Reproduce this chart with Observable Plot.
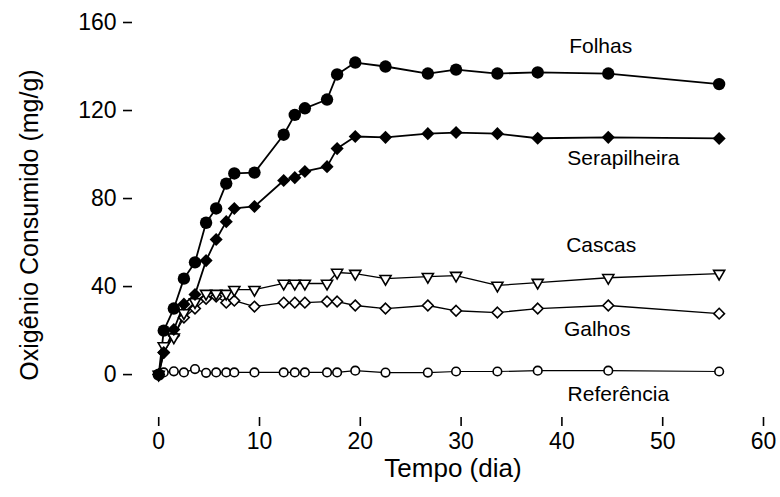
<!DOCTYPE html>
<html>
<head>
<meta charset="utf-8">
<script src="https://cdn.jsdelivr.net/npm/d3@7"></script>
<script src="https://cdn.jsdelivr.net/npm/@observablehq/plot@0.6"></script>
<style>
  html, body { margin: 0; padding: 0; background: #fff; }
  #chart { width: 780px; height: 497px; }
</style>
</head>
<body>
<div id="chart"></div>
<script>
// Time (days)
const tempo = [0, 0.5, 1.5, 2.5, 3.6, 4.7, 5.7, 6.7, 7.5, 9.5, 12.4, 13.5, 14.5, 16.7, 17.7, 19.5, 22.5, 26.7, 29.5, 33.6, 37.6, 44.6, 55.6];

// Oxygen consumed (mg/g)
const folhas       = [0, 20, 30, 43.6, 51, 69, 75.5, 86.8, 91.4, 91.8, 109, 118, 121, 125, 136.4, 141.8, 140, 136.8, 138.6, 136.8, 137.3, 136.8, 132];
const serapilheira = [0, 10, 20.5, 32, 36.4, 51.8, 61.4, 69.5, 75.5, 76.4, 88.2, 89.5, 92.3, 94.5, 102.7, 108.2, 107.8, 109.5, 110, 109.5, 107.4, 107.8, 107.3];
const cascas       = [0, 13, 17, 28, 33, 36.8, 36.8, 36.8, 38.6, 38.6, 41.4, 41.4, 41.4, 41.4, 46.4, 45.9, 43.6, 44.5, 45, 40.5, 41.8, 44, 45.9];
const galhos       = [0, 10, 17.7, 25.9, 30, 34.5, 35.5, 32.7, 33.6, 30.9, 32.7, 32.7, 32.7, 33.2, 33.2, 31.4, 30, 31.4, 29, 28.2, 30, 31.4, 27.7];
const referencia   = [0, 1, 1.5, 1, 2.5, 0.8, 1, 1, 1, 1, 1, 1, 1, 1, 1, 1.8, 0.9, 0.9, 1.4, 1.4, 1.8, 1.8, 1.4];

const seriesNames = ["Folhas", "Serapilheira", "Cascas", "Galhos", "Referência"];
const xTicks = [0, 10, 20, 30, 40, 50, 60];
const yTicks = [0, 40, 80, 120, 160];

// Series label anchors (data units)
const labelX = [43.85, 46.1, 43.9, 43.5, 45.6];
const labelY = [149.3, 98.2, 58.6, 20.5, -9.1];

const valuesBySeries = [folhas, serapilheira, cascas, galhos, referencia];
const rows = [];
seriesNames.forEach((name, i) => {
  tempo.forEach((t, j) => rows.push({serie: name, t, v: valuesBySeries[i][j]}));
});
const sub = (name) => rows.filter(d => d.serie === name);
const labels = seriesNames.map((name, i) => ({name, x: labelX[i], y: labelY[i]}));

const FONT = "Liberation Sans, Arial, sans-serif";

const chart = Plot.plot({
  width: 780,
  height: 497,
  marginLeft: 132,
  marginRight: 17,
  marginTop: 22,
  marginBottom: 80,
  style: {fontFamily: FONT, background: "#fff", color: "#000"},
  x: {domain: [-2.6, 60]},
  y: {domain: [-19.5, 160]},
  marks: [
    Plot.axisX({ticks: xTicks, tickSize: 9, tickPadding: 6, fontSize: 23, label: null, line: true, strokeWidth: 1.6, tickFormat: d3.format("d")}),
    Plot.axisY({ticks: yTicks, tickSize: 9, tickPadding: 7, fontSize: 23, label: null, line: true, strokeWidth: 1.6, tickFormat: d3.format("d")}),
    Plot.line(sub("Folhas"), {x: "t", y: "v", stroke: "#000", strokeWidth: 1.8}),
    Plot.line(sub("Serapilheira"), {x: "t", y: "v", stroke: "#000", strokeWidth: 1.8}),
    Plot.line(sub("Cascas"), {x: "t", y: "v", stroke: "#000", strokeWidth: 1.3}),
    Plot.line(sub("Galhos"), {x: "t", y: "v", stroke: "#000", strokeWidth: 1.3}),
    Plot.line(sub("Referência"), {x: "t", y: "v", stroke: "#000", strokeWidth: 1.2}),
    Plot.dot(sub("Referência"), {x: "t", y: "v", symbol: "circle", r: 4.3, fill: "#fff", stroke: "#000", strokeWidth: 1.6}),
    Plot.dot(sub("Galhos"), {x: "t", y: "v", symbol: "diamond2", r: 4.8, fill: "#fff", stroke: "#000", strokeWidth: 1.6}),
    Plot.dot(sub("Cascas"), {x: "t", y: "v", symbol: "triangle2", r: 5.3, rotate: 180, fill: "#fff", stroke: "#000", strokeWidth: 1.6}),
    Plot.dot(sub("Serapilheira"), {x: "t", y: "v", symbol: "diamond2", r: 5.9, fill: "#000", stroke: "none"}),
    Plot.dot(sub("Folhas"), {x: "t", y: "v", symbol: "circle", r: 6.2, fill: "#000", stroke: "none"}),
    Plot.text(labels, {x: "x", y: "y", text: "name", fontSize: 21, textAnchor: "middle", lineAnchor: "middle", fill: "#000"}),
    Plot.text(["Tempo (dia)"], {frameAnchor: "bottom", text: d => d, dx: 5, dy: 51, fontSize: 26, lineAnchor: "middle", textAnchor: "middle", fill: "#000"}),
    Plot.text(["Oxigênio Consumido (mg/g)"], {frameAnchor: "left", text: d => d, dx: -103, dy: 5, rotate: -90, fontSize: 25, lineAnchor: "middle", textAnchor: "middle", fill: "#000"})
  ]
});
document.getElementById("chart").appendChild(chart);
</script>
</body>
</html>
